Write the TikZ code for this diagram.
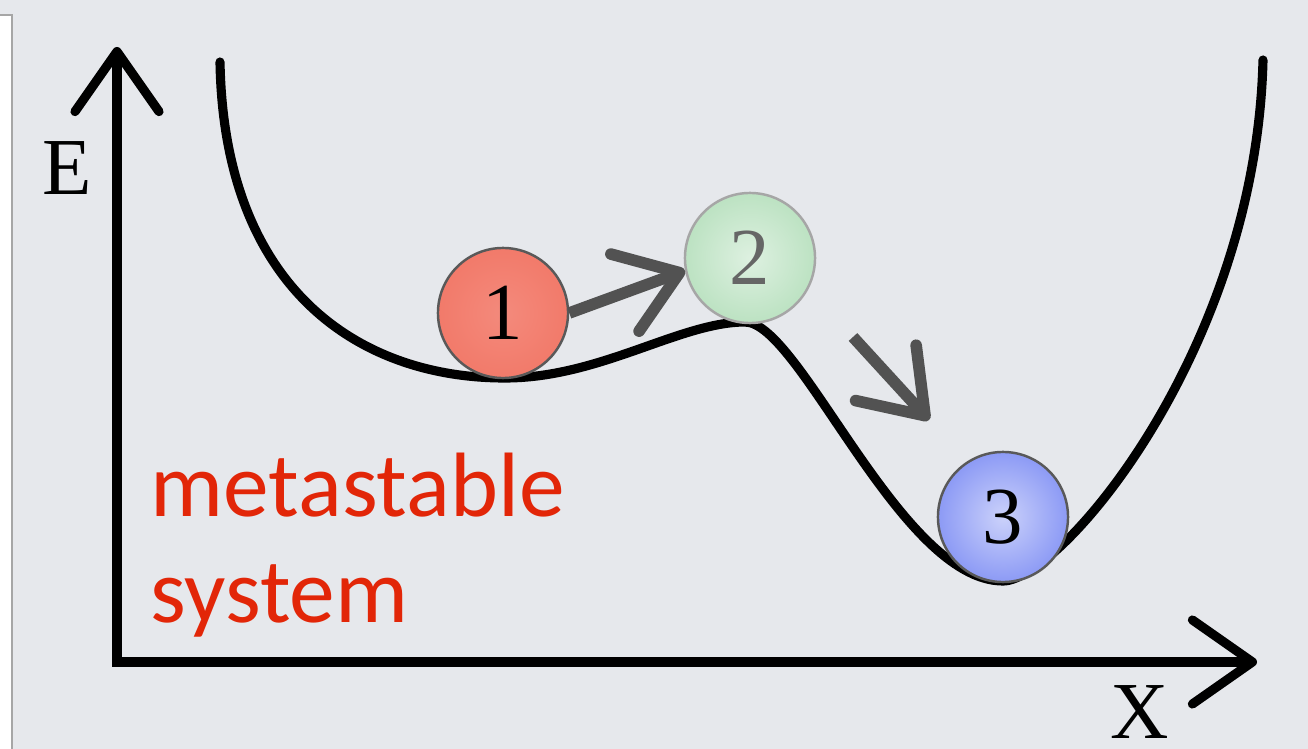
\documentclass[tikz,border=0pt]{standalone}
\usepackage{fontspec}
\usepackage{tikz}
\usetikzlibrary{arrows.meta, positioning, calc}
\newfontfamily\labelfont{Liberation Serif}
\newfontfamily\notefont{Carlito}
\definecolor{bggray}{RGB}{230,232,236}
\definecolor{redball}{RGB}{242,122,106}
\definecolor{greenball}{RGB}{188,226,194}
\definecolor{blueball}{RGB}{140,154,245}
\definecolor{notered}{RGB}{226,38,8}
\definecolor{movegray}{RGB}{82,82,82}

\begin{document}
\begin{tikzpicture}[
    x=0.01cm, y=-0.01cm,
    axis/.style={line width=2.6pt, line join=miter, {Straight Barb[length=0.6cm,width=0.84cm,round]}-{Straight Barb[length=0.6cm,width=0.84cm,round]}},
    axislabel/.style={inner sep=0pt, font=\labelfont\fontsize{23}{27}\selectfont},
    landscape/.style={line width=2.6pt, line cap=round},
    ball/.style={draw, circle, minimum size=1.3cm, inner sep=0pt, line width=0.7pt, font=\labelfont\fontsize{23}{27}\selectfont},
    move/.style={line width=3.3pt, draw=movegray, -{Straight Barb[length=0.58cm,width=0.82cm,round]}},
    note/.style={inner sep=0pt, align=left, text=notered, font=\notefont\fontsize{26}{30.2}\selectfont}
]
    \useasboundingbox (0,0) rectangle (1308,749);
    \fill[bggray] (0,0) rectangle (1308,749);
    \fill[white] (0,15) rectangle (12,749);
    \draw[gray!70, line width=0.8pt] (0,15) -- (12,15) -- (12,749);

    % Axes
    \coordinate (origin) at (117,662);
    \coordinate (ytop) at (117,47);
    \coordinate (xend) at (1257,662);
    \draw[axis] (ytop) -- (origin) -- (xend);
    \node[axislabel] (elabel) at (67,168) {E};
    \node[axislabel] (xlabel) at (1140,712) {X};

    % Energy landscape
    \draw[landscape] (220,62) .. controls (224,290) and (360,378) .. (505,378)
        .. controls (600,378) and (680,322) .. (745,322)
        .. controls (800,322) and (900,581) .. (1003,581)
        .. controls (1060,581) and (1256,350) .. (1263,60);

    % Balls
    \node[ball, draw=black!65, inner color=redball!88!white, outer color=redball] (b1) at (503,313) {1};
    \node[ball, draw=black!35, text=black!60, inner color=greenball!50!white, outer color=greenball] (b2) at (750,258) {2};
    \node[ball, draw=black!65, inner color=blueball!45!white, outer color=blueball] (b3) at (1003,517) {3};

    % Moves
    \coordinate (fall start) at (853,337);
    \coordinate (fall end) at (929,420);
    \draw[move] (b1.east) -- (b2.191);
    \draw[move] (fall start) -- (fall end);

    % Caption
    \node[note, anchor=base west] (caption) at (150,623) {metastable\\system};
\end{tikzpicture}
\end{document}
